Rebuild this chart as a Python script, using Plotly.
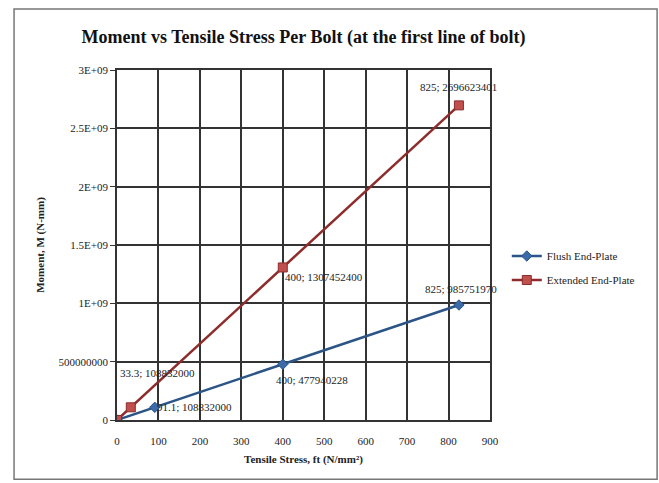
import plotly.graph_objects as go

# Data
flush_x = [0, 91.1, 400, 825]
flush_y = [0, 108832000, 477940228, 985751970]
ext_x = [0, 33.3, 400, 825]
ext_y = [0, 108832000, 1307452400, 2696623401]

x_ticks = [0, 100, 200, 300, 400, 500, 600, 700, 800, 900]
y_ticks = [0, 500000000, 1000000000, 1500000000, 2000000000, 2500000000, 3000000000]
y_tick_labels = ["0", "500000000", "1E+09", "1.5E+09", "2E+09", "2.5E+09", "3E+09"]

FONT = "Liberation Serif, Times New Roman, serif"
FLUSH_COL = "#2B5487"
EXT_COL = "#8E2B2B"

fig = go.Figure()
fig.add_trace(go.Scatter(
    x=flush_x, y=flush_y, mode="lines+markers", name="Flush End-Plate", legendgroup="a",
    line=dict(color=FLUSH_COL, width=2.5),
    marker=dict(symbol="diamond", size=8, color="#3A6AA8", line=dict(color=FLUSH_COL, width=1)),
))
fig.add_trace(go.Scatter(
    x=ext_x, y=ext_y, mode="lines+markers", name="Extended End-Plate", legendgroup="b",
    line=dict(color=EXT_COL, width=2.5),
    marker=dict(symbol="square", size=9, color="#C0504D", line=dict(color=EXT_COL, width=1)),
))

def lab(x, y):
    return f"{x:g}; {y}"

# label placement (anchor, xshift, yshift) per point, skipping origin
flush_pos = [None, ("left", 0, 0), ("left", -9, -16), ("center", 2, 16)]
ext_pos = [None, ("left", -13, 34), ("left", 0, -10), ("center", 0, 18)]
annots = []
for xs, ys, pos in [(flush_x, flush_y, flush_pos), (ext_x, ext_y, ext_pos)]:
    for x, y, p in zip(xs, ys, pos):
        if p is None:
            continue
        annots.append(dict(x=x, y=y, xref="x", yref="y", text=lab(x, y), showarrow=False,
                           xanchor=p[0], yanchor="middle", xshift=p[1], yshift=p[2],
                           font=dict(family=FONT, size=11, color="#222")))

fig.update_layout(
    width=659, height=483,
    margin=dict(l=117, r=169, t=70, b=63),
    paper_bgcolor="white", plot_bgcolor="white",
    font=dict(family=FONT, size=11, color="#222"),
    title=dict(text="<b>Moment vs Tensile Stress Per Bolt (at the first line of bolt)</b>",
               x=0.5, xanchor="center", y=0.925, yanchor="middle", xref="paper",
               font=dict(family=FONT, size=18, color="#111")),
    xaxis=dict(range=[0, 900], tickvals=x_ticks, showgrid=True, gridcolor="#333", gridwidth=1.5,
               zeroline=False, showline=True, linecolor="#333", linewidth=1.5, mirror=True,
               ticks="", ticklabelstandoff=10, tickfont=dict(family=FONT, size=11),
               title=dict(text="<b>Tensile Stress, ft (N/mm²)</b>", font=dict(family=FONT, size=11), standoff=9)),
    yaxis=dict(range=[0, 3000000000], tickvals=y_ticks, ticktext=y_tick_labels, showgrid=True,
               gridcolor="#333", gridwidth=1.5, zeroline=False, showline=True, linecolor="#333",
               linewidth=1.5, mirror=True, ticks="outside", ticklen=5, tickcolor="#333",
               tickfont=dict(family=FONT, size=11),
               title=dict(text="<b>Moment, M (N-mm)</b>", font=dict(family=FONT, size=11), standoff=12)),
    legend=dict(x=1.045, y=0.51, xanchor="left", yanchor="top", bgcolor="rgba(0,0,0,0)",
                font=dict(family=FONT, size=11), tracegroupgap=5, itemwidth=30),
    annotations=annots,
    shapes=[dict(type="rect", xref="paper", yref="paper", x0=-0.276, x1=1.448, y0=-0.169, y1=1.174,
                 line=dict(color="#777", width=1.5), fillcolor="rgba(0,0,0,0)", layer="below")],
)

fig.write_html("out.html", config={"displayModeBar": False},
               post_script="document.body.style.margin='0';document.body.style.overflow='hidden';")
